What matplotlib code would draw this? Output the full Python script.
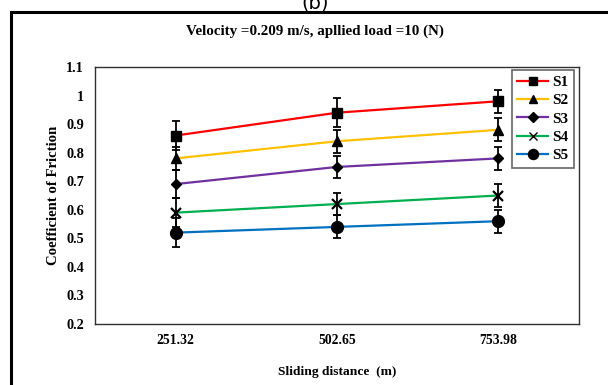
import matplotlib
matplotlib.use("Agg")
import matplotlib.pyplot as plt
from matplotlib.patches import Rectangle

# datos
distances = ["251.32", "502.65", "753.98"]
series = ["S1", "S2", "S3", "S4", "S5"]
s1 = [0.86, 0.94, 0.98]
s2 = [0.78, 0.84, 0.88]
s3 = [0.69, 0.75, 0.78]
s4 = [0.59, 0.62, 0.65]
s5 = [0.52, 0.54, 0.56]
e1 = [0.05, 0.05, 0.04]
e2 = [0.04, 0.04, 0.04]
e3 = [0.05, 0.04, 0.04]
e4 = [0.05, 0.04, 0.04]
e5 = [0.05, 0.04, 0.04]
yticks = [0.2, 0.3, 0.4, 0.5, 0.6, 0.7, 0.8, 0.9, 1.0, 1.1]
ytick_labels = ["0.2", "0.3", "0.4", "0.5", "0.6", "0.7", "0.8", "0.9", "1", "1.1"]

values = [s1, s2, s3, s4, s5]
errors = [e1, e2, e3, e4, e5]
colors = ["#FF0000", "#FFC000", "#7030A0", "#00B050", "#0070C0"]
markers = ["s", "^", "D", "x", "o"]
msizes = [7.5, 7.5, 5.5, 7.5, 8.5]

plt.rcParams["font.family"] = ["Liberation Serif", "DejaVu Serif"]
plt.rcParams["font.weight"] = "bold"

fig = plt.figure(figsize=(6.08, 3.85), dpi=100)
W, H = 608, 385

# marco exterior
fig.patches.append(Rectangle((11 / W, -0.05), 1.0, 1 - 12 / H + 0.05,
                             transform=fig.transFigure, fill=False,
                             edgecolor="black", linewidth=2.2))
fig.text(315 / W, 1 - 3 / H, "(b)", ha="center", va="center", fontsize=14,
         fontweight="normal", family="DejaVu Sans")

ax = fig.add_axes([95 / W, 1 - 324 / H, 484 / W, 257 / H])
x = list(range(len(distances)))
for name, v, e, c, m, ms in zip(series, values, errors, colors, markers, msizes):
    ax.plot(x, v, color=c, linewidth=1.6, zorder=2)
    ax.errorbar(x, v, yerr=e, fmt="none", ecolor="black", elinewidth=1.3,
                capsize=3, capthick=1.3, zorder=3)
    ax.plot(x, v, linestyle="none", marker=m, color="black", markersize=ms,
            markeredgewidth=1.6 if m == "x" else 1, zorder=4)
    ax.plot([], [], color=c, linewidth=1.6, marker=m, markerfacecolor="black",
            markeredgecolor="black", markersize=ms * 0.85, label=name)

ax.set_xlim(-0.5, 2.5)
ax.set_ylim(0.2, 1.1)
ax.set_xticks(x)
ax.set_xticklabels(distances)
ax.set_yticks(yticks)
ax.set_yticklabels(ytick_labels)
ax.tick_params(length=0)
ax.tick_params(axis="y", pad=8, labelsize=10.3)
ax.tick_params(axis="x", pad=7, labelsize=9.8)
for s in ax.spines.values():
    s.set_linewidth(1.0)
    s.set_color("#303030")

ax.set_xlabel("Sliding distance  (m)", fontsize=9.7, fontweight="bold", labelpad=14)
ax.set_ylabel("Coefficient of Friction", fontsize=10.6, fontweight="bold", labelpad=4)
fig.text(315 / W, 1 - 31 / H, "Velocity =0.209 m/s, apllied load =10 (N)",
         ha="center", va="center", fontsize=10.8, fontweight="bold")

leg = ax.legend(loc="upper right", bbox_to_anchor=(0.99, 0.988), borderaxespad=0,
                fancybox=False, edgecolor="#404040", fontsize=11,
                handlelength=2.0, borderpad=0.35, labelspacing=0.3,
                handletextpad=0.3)
leg.get_frame().set_linewidth(1.2)
for t in leg.get_texts():
    t.set_fontweight("bold")

fig.savefig("out.png", dpi=100)
